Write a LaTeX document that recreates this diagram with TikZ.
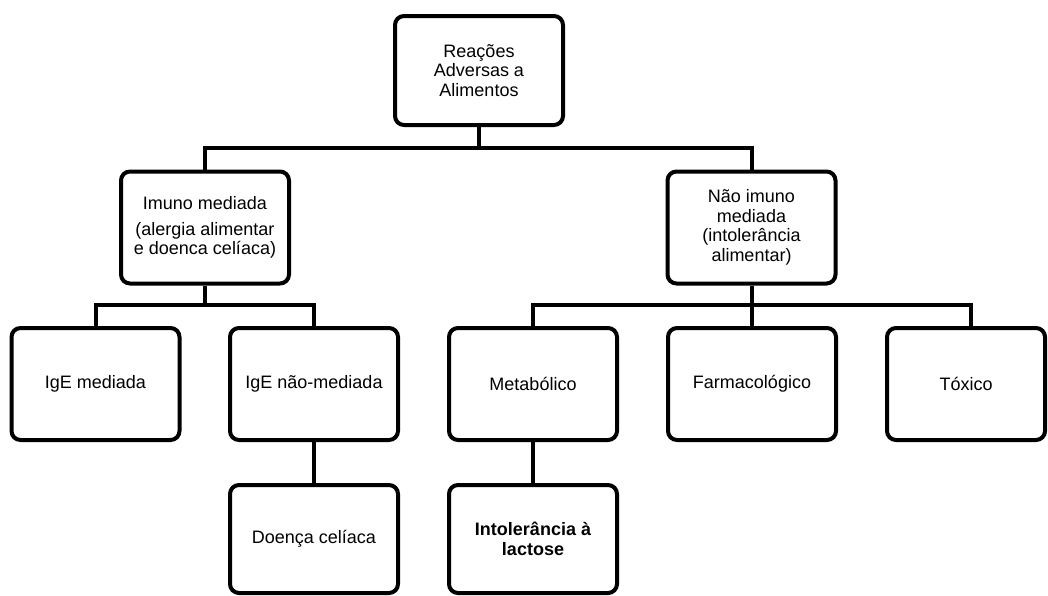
\documentclass[tikz,border=0pt]{standalone}
\usepackage{fontspec}
\setmainfont{Liberation Sans}
\begin{document}
\begin{tikzpicture}[x=1pt,y=-1pt,
  box/.style={draw=black, line width=4pt, rounded corners=9pt, fill=white,
    minimum width=168pt, minimum height=112pt, align=center, inner sep=2pt,
    font=\fontsize{18}{19.5}\selectfont},
  conn/.style={draw=black, line width=4pt}]
\useasboundingbox (0,0) rectangle (1048,595);
\node[box, minimum height=109pt] (root) at (479,70.5) {Reações\\Adversas a\\Alimentos};
\node[box] (imuno) at (205,227.5) {Imuno mediada\\[6pt](alergia alimentar\\e doenca celíaca)};
\node[box] (naoimuno) at (751.5,227.5) {Não imuno\\mediada\\(intolerância\\alimentar)};
\node[box] (igem) at (95.5,384) {IgE mediada};
\node[box] (igenm) at (314,384) {IgE não-mediada};
\node[box] (metab) at (533,384) {Metabólico};
\node[box] (farma) at (752,384) {Farmacológico};
\node[box, minimum width=158pt] (toxico) at (966,384) {Tóxico};
\node[box, minimum height=108pt] (doenca) at (314,539) {Doença celíaca};
\node[box, minimum height=108pt] (lactose) at (533,539) {\bfseries Intolerância à\\\bfseries lactose};
\coordinate (b1) at (479,148);
\coordinate (b2) at (205,305);
\coordinate (b3) at (751.5,305);
\draw[conn] (root.south) -- (b1);
\draw[conn] (imuno.north) |- (b1) -| (naoimuno.north);
\draw[conn] (imuno.south) -- (b2);
\draw[conn] (igem.north) |- (b2) -| (igenm.north);
\draw[conn] (naoimuno.south) -- (b3);
\draw[conn] (metab.north) |- (b3) -| ([xshift=5pt]toxico.north);
\draw[conn] (farma.north) -- (farma.north |- b3);
\draw[conn] (igenm.south) -- (doenca.north);
\draw[conn] (metab.south) -- (lactose.north);
\end{tikzpicture}
\end{document}
